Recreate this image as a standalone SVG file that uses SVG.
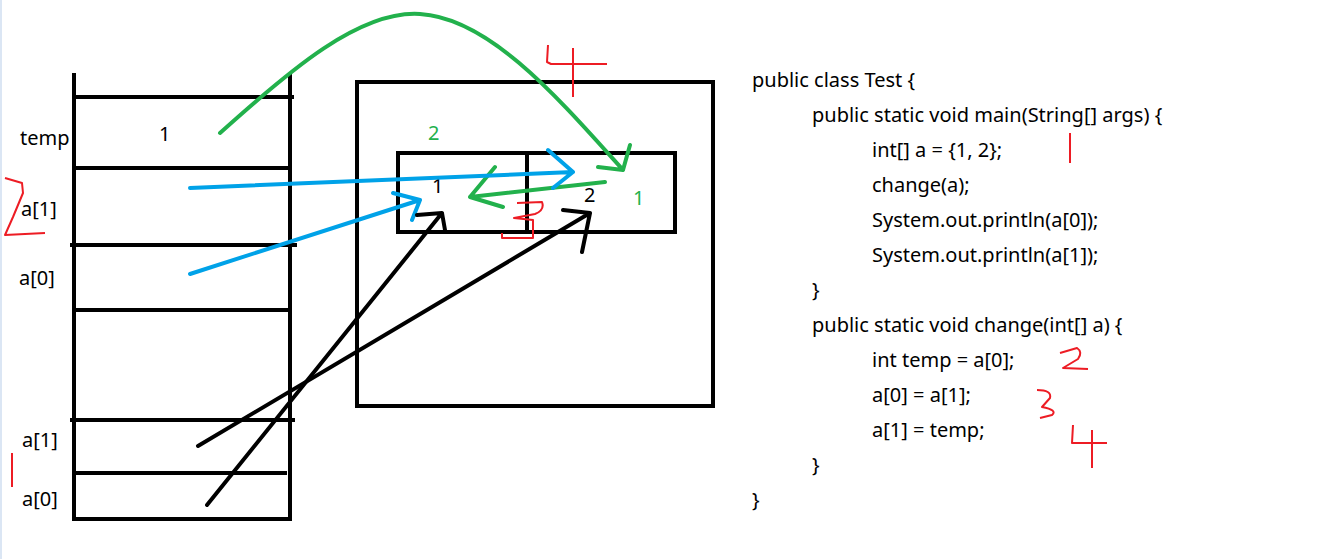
<svg xmlns="http://www.w3.org/2000/svg" width="1342" height="559" viewBox="0 0 1342 559">
<style>
.t{font-family:"Noto Sans","Liberation Sans",sans-serif;font-size:20px;fill:#000}
.g{fill:#22b14c}
.k{stroke:#000;stroke-width:4;fill:none;stroke-linecap:square}
.ln{stroke-width:4;fill:none;stroke-linecap:round;stroke-linejoin:round}
.red{stroke:#ed1c24;stroke-width:2;fill:none;stroke-linejoin:round}
</style>
<rect x="0" y="0" width="1342" height="559" fill="#fff"/>
<line x1="1" y1="0" x2="1" y2="559" stroke="#dbe6f4" stroke-width="2"/>
<g id="stack">
<path class="k" d="M74,75 V519 H290 V75 M74,97 H292 M74,168 H290 M72,245 H295 M74,310 H290 M72,420 H293 M74,473 H285"/>
<text class="t" x="20" y="145">temp</text>
<text class="t" x="159" y="141">1</text>
<text class="t" x="21" y="216">a[1]</text>
<text class="t" x="19" y="285">a[0]</text>
<text class="t" x="22" y="447">a[1]</text>
<text class="t" x="22" y="506">a[0]</text>
</g>
<g id="heap">
<rect class="k" x="357" y="82" width="356" height="324"/>
<rect class="k" x="398" y="153" width="277" height="79"/>
<line class="k" x1="527" y1="153" x2="527" y2="232"/>
<text class="t g" x="428" y="140">2</text>
<text class="t" x="432" y="193">1</text>
<text class="t" x="584" y="202">2</text>
<text class="t g" x="633" y="205">1</text>
</g>
<g id="code">
<text class="t" x="752" y="87">public class Test {</text>
<text class="t" x="812" y="122">public static void main(String[] args) {</text>
<text class="t" x="872" y="157">int[] a = {1, 2};</text>
<text class="t" x="872" y="192">change(a);</text>
<text class="t" x="872" y="227">System.out.println(a[0]);</text>
<text class="t" x="872" y="262">System.out.println(a[1]);</text>
<text class="t" x="812" y="297">}</text>
<text class="t" x="812" y="332">public static void change(int[] a) {</text>
<text class="t" x="872" y="367">int temp = a[0];</text>
<text class="t" x="872" y="402">a[0] = a[1];</text>
<text class="t" x="872" y="437">a[1] = temp;</text>
<text class="t" x="812" y="472">}</text>
<text class="t" x="752" y="507">}</text>
</g>
<g id="connectors">
<path class="ln" stroke="#22b14c" d="M220,133 C290,70 360,10 420,14 C490,18 560,100 623,170 M598,167 L623,170 L630,145"/>
<path class="ln" stroke="#22b14c" d="M605,182 L470,197 M495,167 L470,197 L503,207"/>
<path class="ln" stroke="#00a2e8" d="M190,188 L573,172 M548,150 L573,172 L553,188"/>
<path class="ln" stroke="#00a2e8" d="M190,274 L420,200 M393,193 L420,200 L412,220"/>
<path class="ln" stroke="#000" d="M207,505 L442,213 M417,215 L442,213 L445,230"/>
<path class="ln" stroke="#000" d="M198,446 L590,213 M563,210 L590,213 L582,252"/>
</g>
<g id="marks">
<path class="red" d="M5,178 L22,183 L23,193 L13,217 L5,235 L45,233"/>
<path class="red" d="M12,453 V487"/>
<path class="red" d="M548,45 L547,62 L551,64 H607 M573,48 V97"/>
<path class="red" d="M517,203 L542,202 Q545,210 535,214 L514,218 L533,220 L533,238 L502,238 L502,233"/>
<path class="red" d="M1070,133 V163"/>
<path class="red" d="M1060,353 L1077,348 Q1083,352 1078,359 L1063,368 L1088,369"/>
<path class="red" d="M1037,390 Q1052,390 1050,398 L1042,407 Q1058,410 1052,415 L1040,418"/>
<path class="red" d="M1073,425 L1072,443 H1107 M1092,430 V468"/>
</g>
</svg>
